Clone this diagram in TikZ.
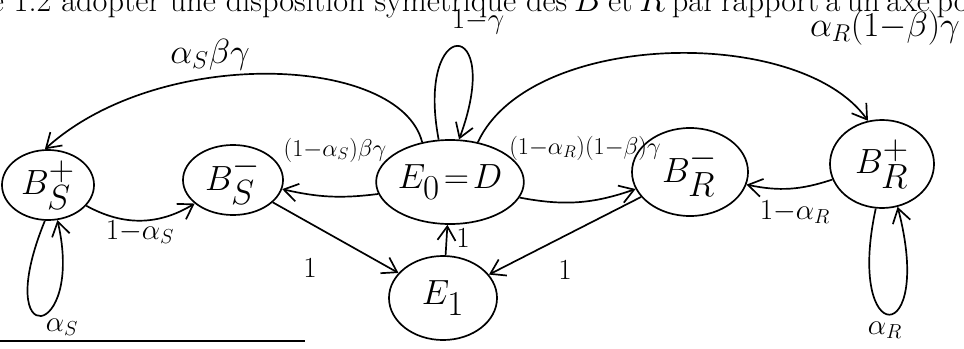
\documentclass[tikz,border=0pt]{standalone}
\usepackage{fontspec}
\usetikzlibrary{arrows.meta, shapes.geometric}
\tikzset{
  every picture/.style={line width=1.2pt},
  state/.style={ellipse, draw, inner sep=0pt, font=\fontsize{36}{38}\selectfont},
  arrow/.style={-{Straight Barb[length=3.5mm, width=4.5mm]}, line width=1.2pt},
  lbl/.style={font=\fontsize{21}{24}\selectfont, inner sep=1pt},
  longlbl/.style={lbl, font=\fontsize{18}{20}\selectfont},
  headline/.style={font=\fontsize{23}{26}\selectfont, inner sep=0pt},
}

\begin{document}
\begin{tikzpicture}[x=0.025cm, y=-0.025cm]
  \useasboundingbox (0,0) rectangle (964,348);
  % line of the page above, cut by the scan
  \node[headline, anchor=base west] (head) at (-10,12)
    {e 1.2 adopter une disposition symétrique des\spaceskip=0.2em\relax{} $B$ et $R$ par rapport à un axe po};

  % states
  \node[state, minimum width=2.3cm, minimum height=1.75cm] (bsp) at (48,185) {$B_S^+$};
  \node[state, minimum width=2.5cm, minimum height=1.75cm] (bsm) at (233,180) {$B_S^-$};
  \node[state, minimum width=3.3cm, minimum height=2.1cm] (e0) at (450,182) {$E_0\!=\!D$};
  \node[state, minimum width=2.7cm, minimum height=2.1cm] (e1) at (443,298) {$E_1$};
  \node[state, minimum width=2.9cm, minimum height=2.2cm] (brm) at (690,172) {$B_R^-$};
  \node[state, minimum width=2.6cm, minimum height=2.2cm] (brp) at (882,164) {$B_R^+$};

  % transitions
  \draw[arrow] (bsp) to[bend right=30] (bsm);
  \draw[arrow] (e0) to[bend left=10] (bsm);
  \draw[arrow] (e0.125) .. controls (400,55) and (160,45) .. (bsp.95);
  \draw[arrow] (e0.105) .. controls (415,15) and (505,15) .. (e0.78);
  \draw[arrow] (e0) to[bend right=15] (brm);
  \draw[arrow] (e0.55) .. controls (530,30) and (800,25) .. (brp.108);
  \draw[arrow] (brp) to[bend left=15] (brm);
  \draw[arrow] (brp.262) .. controls (845,350) and (935,350) .. (brp.290);
  \draw[arrow] (bsp.265) .. controls (-10,355) and (85,340) .. (bsp.285);
  \draw[arrow] (bsm) -- (e1);
  \draw[arrow] (brm) -- (e1);
  \draw[arrow] (e1) -- (e0);

  % probabilities
  \node[lbl] (l1) at (140,232) {$1{-}\alpha_S$};
  \node[longlbl] (l2) at (335,150) {$(1{-}\alpha_S)\beta\gamma$};
  \node[lbl, font=\fontsize{24}{26}\selectfont] (l3) at (210,55) {$\alpha_S\beta\gamma$};
  \node[lbl] (l4) at (478,22) {$1{-}\gamma$};
  \node[longlbl] (l5) at (585,148) {$(1{-}\alpha_R)(1{-}\beta)\gamma$};
  \node[lbl, font=\fontsize{24}{26}\selectfont] (l6) at (885,28) {$\alpha_R(1{-}\beta)\gamma$};
  \node[lbl] (l7) at (795,212) {$1{-}\alpha_R$};
  \node[lbl] (l8) at (885,330) {$\alpha_R$};
  \node[lbl] (l9) at (62,327) {$\alpha_S$};
  \node[lbl] (l10) at (310,268) {$1$};
  \node[lbl] (l11) at (565,270) {$1$};
  \node[lbl] (l12) at (463,238) {$1$};

  % rule at the foot
  \draw[line width=0.8pt] (0,341) -- (305,341);
\end{tikzpicture}
\end{document}
